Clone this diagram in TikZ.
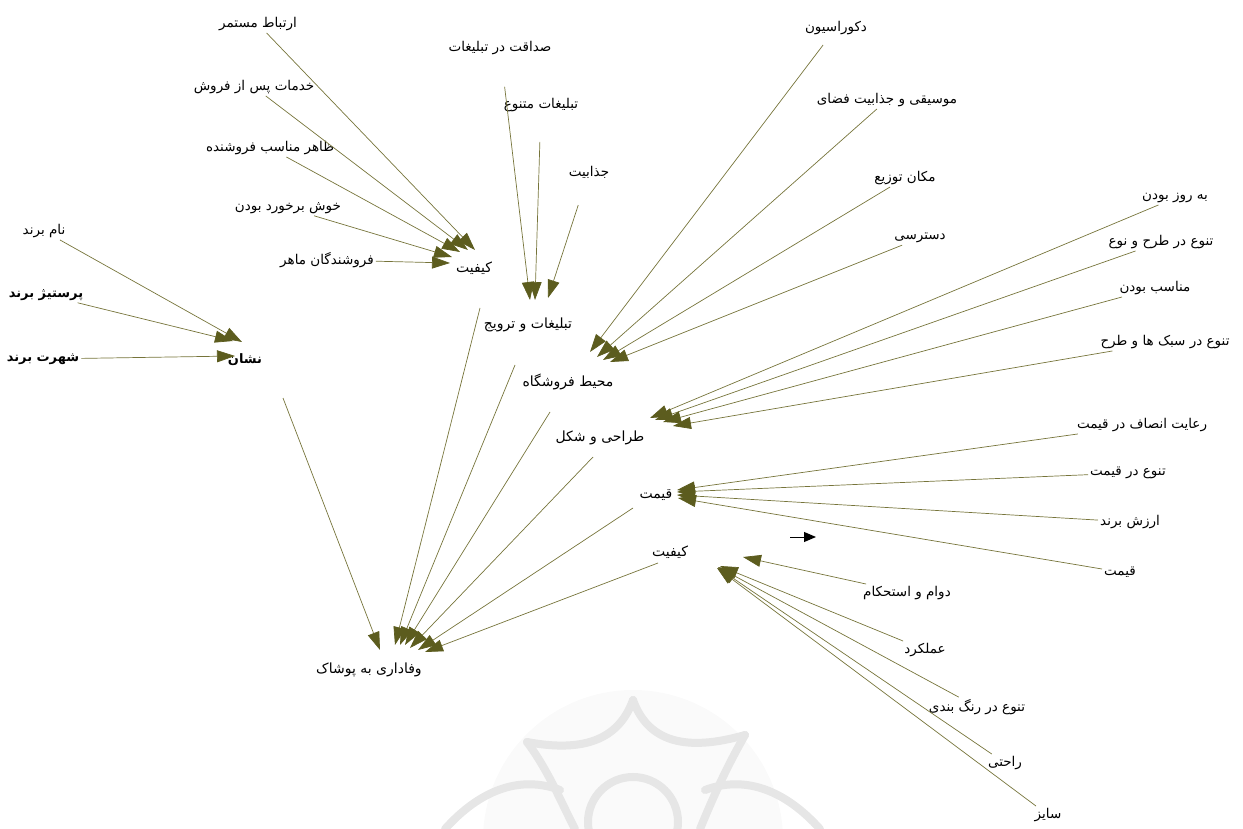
\documentclass[tikz,border=0pt]{standalone}
\usepackage{fontspec}
\usepackage{tikz}
\usetikzlibrary{arrows.meta}
\newfontfamily\fa[Script=Arabic]{DejaVu Sans}
\TeXXeTstate=1
\newcommand{\fl}[1]{\beginR #1\endR}
\definecolor{linec}{RGB}{118,116,58}
\definecolor{headc}{RGB}{92,92,30}
\definecolor{markc}{RGB}{230,230,230}
\tikzset{
lbl/.style={font=\fa\fontsize{13.5}{15}\selectfont, inner sep=2pt},
blbl/.style={font=\fa\bfseries\fontsize{13}{15}\selectfont, inner sep=2pt},
hub/.style={font=\fa\fontsize{14}{16}\selectfont, inner sep=2pt},
arr/.style={draw=linec, line width=0.7pt, -{Triangle[length=18pt,width=12pt,color=headc]}},
mk/.style={draw=markc, line width=8pt, line cap=round},
}

\begin{document}
\begin{tikzpicture}[x=1pt, y=-1pt]
\useasboundingbox (0,0) rectangle (1243,829);

\fill[gray!4] (633,840) circle[radius=150pt];
\draw[mk] (633,700) .. controls (618,742) and (580,752) .. (527,742); \draw[mk] (633,700) .. controls (648,742) and (686,752) .. (745,735);
\draw[mk] (527,742) .. controls (548,770) and (560,800) .. (575,829); \draw[mk] (745,735) .. controls (725,770) and (712,800) .. (700,829);
\draw[mk] (445,829) .. controls (480,790) and (520,775) .. (560,790); \draw[mk] (820,829) .. controls (785,790) and (745,775) .. (705,790);
\draw[mk] (633,822) circle[radius=45pt];

\node[lbl] (b1) at (44,231) {\fl{نام برند}}; \node[blbl] (b2) at (46,295) {\fl{پرستیژ برند}}; \node[blbl] (b3) at (43,359) {\fl{شهرت برند}}; \node[blbl] (b) at (245,360) {\fl{نشان}};

\node[lbl] (k1) at (258,24) {\fl{ارتباط مستمر}}; \node[lbl] (k2) at (254,87) {\fl{خدمات پس از فروش}}; \node[lbl] (k3) at (270,148) {\fl{ظاهر مناسب فروشنده}}; \node[lbl] (k4) at (288,208) {\fl{خوش برخورد بودن}}; \node[lbl] (k5) at (327,260) {\fl{فروشندگان ماهر}}; \node[hub] (k) at (474,268) {\fl{کیفیت}};

\node[lbl] (t1) at (500,48) {\fl{صداقت در تبلیغات}}; \node[lbl] (t2) at (541,105) {\fl{تبلیغات متنوع}}; \node[lbl] (t3) at (589,172) {\fl{جذابیت}}; \node[hub] (t) at (528,325) {\fl{تبلیغات و ترویج}};

\node[lbl] (m1) at (836,28) {\fl{دکوراسیون}}; \node[lbl] (m2) at (887,100) {\fl{موسیقی و جذابیت فضای}}; \node[lbl] (m3) at (905,178) {\fl{مکان توزیع}}; \node[lbl] (m4) at (920,238) {\fl{دسترسی}}; \node[hub] (m) at (568,382) {\fl{محیط فروشگاه}};

\node[lbl] (d1) at (1175,198) {\fl{به روز بودن}}; \node[lbl] (d2) at (1161,242) {\fl{تنوع در طرح و نوع}}; \node[lbl] (d3) at (1155,288) {\fl{مناسب بودن}}; \node[lbl] (d4) at (1165,342) {\fl{تنوع در سبک ها و طرح}}; \node[hub] (d) at (600,438) {\fl{طراحی و شکل}};

\node[lbl] (p1) at (1142,425) {\fl{رعایت انصاف در قیمت}}; \node[lbl] (p2) at (1128,473) {\fl{تنوع در قیمت}}; \node[lbl] (p3) at (1130,522) {\fl{ارزش برند}}; \node[lbl] (p4) at (1120,572) {\fl{قیمت}}; \node[hub] (p) at (656,495) {\fl{قیمت}};

\node[lbl] (q1) at (907,593) {\fl{دوام و استحکام}}; \node[lbl] (q2) at (925,650) {\fl{عملکرد}}; \node[lbl] (q3) at (977,707) {\fl{تنوع در رنگ بندی}}; \node[lbl] (q4) at (1005,763) {\fl{راحتی}}; \node[lbl] (q5) at (1048,815) {\fl{سایز}}; \node[hub] (q) at (670,552) {\fl{کیفیت}};

\node[hub] (v) at (369,670) {\fl{وفاداری به پوشاک}};

\draw[arr] (b1) -- ([shift={(-3,-18)}]b.center); \draw[arr] (b2) -- ([shift={(-12,-19)}]b.center); \draw[arr] (b3) -- ([shift={(-10,-4)}]b.center);
\draw[arr] (k1) -- ([shift={(1,-18)}]k.center); \draw[arr] (k2) -- ([shift={(-6,-18)}]k.center); \draw[arr] (k3) -- ([shift={(-14,-16)}]k.center); \draw[arr] (k4) -- ([shift={(-22,-11)}]k.center); \draw[arr] (k5) -- ([shift={(-24,-5)}]k.center);
\draw[arr, shorten <=30pt] (t1) -- ([shift={(2,-25)}]t.center); \draw[arr, shorten <=28pt] (t2) -- ([shift={(7,-25)}]t.center); \draw[arr, shorten <=26pt] (t3) -- ([shift={(20,-27)}]t.center);
\draw[arr, shorten <=10pt] (m1) -- ([shift={(22,-30)}]m.center); \draw[arr] (m2) -- ([shift={(29,-25)}]m.center); \draw[arr] (m3) -- ([shift={(35,-22)}]m.center); \draw[arr] (m4) -- ([shift={(42,-20)}]m.center);
\draw[arr] (d1) -- ([shift={(50,-20)}]d.center); \draw[arr] (d2) -- ([shift={(55,-18)}]d.center); \draw[arr] (d3) -- ([shift={(63,-16)}]d.center); \draw[arr] (d4) -- ([shift={(73,-12)}]d.center);
\draw[arr] (p1) -- ([shift={(21,-5)}]p.center); \draw[arr] (p2) -- ([shift={(21,-3)}]p.center); \draw[arr] (p3) -- ([shift={(21,0)}]p.center); \draw[arr] (p4) -- ([shift={(22,3)}]p.center);
\draw[arr] (q1) -- ([shift={(73,5)}]q.center); \draw[arr] (q2) -- ([shift={(50,14)}]q.center); \draw[arr] (q3) -- ([shift={(48,15)}]q.center); \draw[arr] (q4) -- ([shift={(48,16)}]q.center); \draw[arr] (q5) -- ([shift={(47,16)}]q.center);

\draw[arr] ([shift={(38,38)}]b.center) -- ([shift={(11,-20)}]v.center); \draw[arr] ([shift={(6,40)}]k.center) -- ([shift={(26,-25)}]v.center); \draw[arr] ([shift={(-13,40)}]t.center) -- ([shift={(31,-25)}]v.center); \draw[arr] ([shift={(-18,30)}]m.center) -- ([shift={(36,-25)}]v.center);
\draw[arr] ([shift={(-7,19)}]d.center) -- ([shift={(41,-22)}]v.center); \draw[arr] ([shift={(-23,13)}]p.center) -- ([shift={(49,-20)}]v.center); \draw[arr] ([shift={(-12,11)}]q.center) -- ([shift={(56,-18)}]v.center);

\coordinate (s1) at (790,537); \coordinate (s2) at (816,537);
\draw[line width=1pt, -{Triangle[length=12pt,width=10pt]}] (s1) -- (s2);
\end{tikzpicture}
\end{document}
